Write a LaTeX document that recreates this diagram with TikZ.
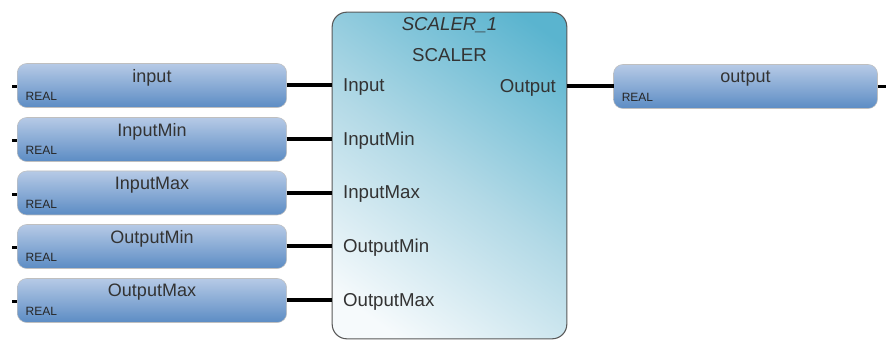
\documentclass[tikz,border=0pt]{standalone}
\usepackage{fontspec}
\setmainfont{Liberation Sans}
\definecolor{varTop}{HTML}{B6CAE6}
\definecolor{varBot}{HTML}{5C8CC4}
\definecolor{blkDark}{HTML}{5AB4CF}
\definecolor{blkMid}{HTML}{B2D9E6}
\definecolor{blkLight}{HTML}{F6FAFC}
\pgfdeclareverticalshading{blkshade}{100bp}{color(0bp)=(blkLight); color(22bp)=(blkLight); color(50bp)=(blkMid); color(80bp)=(blkDark); color(100bp)=(blkDark)}
\begin{document}
\begin{tikzpicture}[x=0.75pt,y=-0.75pt,
  varbox/.style={rounded corners=7pt, draw=black!25, line width=0.4pt,
    top color=varTop, bottom color=varBot, minimum width=202pt, minimum height=33pt,
    inner sep=0pt, outer sep=0pt},
  wire/.style={line width=3pt, black},
  stub/.style={line width=2.4pt, black},
  vname/.style={font=\fontsize{13.5}{15}\selectfont, text=black!80, anchor=center, inner sep=0pt},
  vtype/.style={font=\fontsize{9}{10}\selectfont, text=black!85, anchor=west, inner sep=0pt},
  pin/.style={font=\fontsize{14}{16}\selectfont, text=black!80, inner sep=0pt}
]
\useasboundingbox (0,0) rectangle (886,341);

% function block
\node[draw=black!65, line width=0.8pt, rounded corners=11pt,
  minimum width=176pt, minimum height=245pt, inner sep=0pt, outer sep=0pt,
  shading=blkshade, shading angle=-36] (blk) at (449.5,175.5) {};
\node[pin, font=\itshape\fontsize{14}{16}\selectfont] (inst) at (449.5,25) {SCALER\_1};
\node[pin] (ftype) at (449.5,55) {SCALER};

% input variables
\foreach \i/\name/\yy in {1/input/85.5, 2/InputMin/139.5, 3/InputMax/193, 4/OutputMin/246.5, 5/OutputMax/300.5}{
  \node[varbox] (in\i) at (152,\yy) {};
  \node[vname] (inl\i) at ([yshift=-14*0.75pt]in\i.north) {\name};
  \node[vtype] (int\i) at ([xshift=6pt,yshift=-8.5pt]in\i.west) {REAL};
  \coordinate (s\i) at ([xshift=-4pt,yshift=-1pt]in\i.west);
  \draw[stub] (s\i) -- ([yshift=-1pt]in\i.west);
  \coordinate (p\i) at (blk.west |- in\i.east);
  \draw[wire] (in\i.east) -- (p\i);
}
\node[pin, anchor=west] (pl1) at ([xshift=8pt,yshift=-1pt]p1) {Input};
\node[pin, anchor=west] (pl2) at ([xshift=8pt,yshift=-1pt]p2) {InputMin};
\node[pin, anchor=west] (pl3) at ([xshift=8pt,yshift=-1pt]p3) {InputMax};
\node[pin, anchor=west] (pl4) at ([xshift=8pt,yshift=-1pt]p4) {OutputMin};
\node[pin, anchor=west] (pl5) at ([xshift=8pt,yshift=-1pt]p5) {OutputMax};

% output variable
\node[varbox, minimum width=198pt] (out1) at (745.5,86.5) {};
\node[vname] (outl1) at ([yshift=-14*0.75pt]out1.north) {output};
\node[vtype] (outt1) at ([xshift=6pt,yshift=-8.5pt]out1.west) {REAL};
\coordinate (po) at (blk.east |- out1.west);
\draw[wire] (po) -- (out1.west);
\node[pin, anchor=east] (plo) at ([xshift=-8pt,yshift=-1pt]po) {Output};
\coordinate (so) at ([xshift=6pt]out1.east);
\draw[stub] (out1.east) -- (so);
\end{tikzpicture}
\end{document}
